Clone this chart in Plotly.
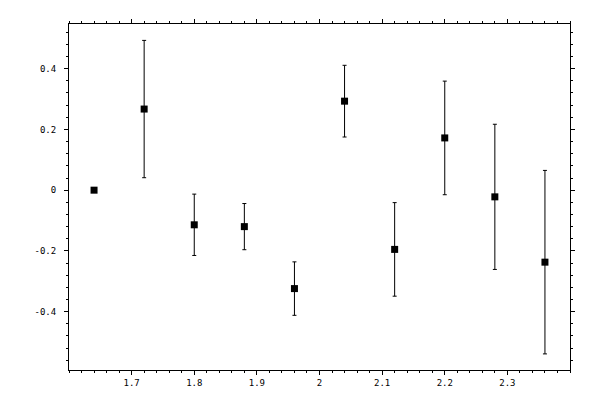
import plotly.graph_objects as go

x = [1.64, 1.72, 1.80, 1.88, 1.96, 2.04, 2.12, 2.20, 2.28, 2.36]
y = [0.0, 0.267, -0.114, -0.120, -0.324, 0.293, -0.195, 0.172, -0.022, -0.237]
err = [0.0, 0.226, 0.101, 0.076, 0.088, 0.118, 0.154, 0.187, 0.239, 0.302]

x_ticks = [1.7, 1.8, 1.9, 2.0, 2.1, 2.2, 2.3]
x_labels = ["1.7", "1.8", "1.9", "2", "2.1", "2.2", "2.3"]
y_ticks = [-0.4, -0.2, 0.0, 0.2, 0.4]
y_labels = ["-0.4", "-0.2", "0", "0.2", "0.4"]

fig = go.Figure(
    go.Scatter(
        x=x,
        y=y,
        mode="markers",
        marker=dict(symbol="square", size=7, color="black"),
        error_y=dict(type="data", array=err, color="black", thickness=1, width=2),
    )
)

axis_style = dict(
    showline=True,
    linecolor="black",
    linewidth=1,
    mirror="ticks",
    showgrid=False,
    zeroline=False,
    ticks="outside",
    ticklen=4,
    tickcolor="black",
    tickfont=dict(family="DejaVu Sans Mono", size=9, color="black"),
)

fig.update_xaxes(
    range=[1.6, 2.4],
    tickvals=x_ticks,
    ticktext=x_labels,
    minor=dict(dtick=0.02, tick0=1.6, ticks="outside", ticklen=2, tickcolor="black"),
    **axis_style,
)
fig.update_yaxes(
    range=[-0.592, 0.547],
    tickvals=y_ticks,
    ticktext=y_labels,
    ticklabelstandoff=6,
    minor=dict(dtick=0.04, tick0=0, ticks="outside", ticklen=2, tickcolor="black"),
    **axis_style,
)
# page body adds an 8px offset, so the margins are shifted to compensate
fig.update_layout(
    width=600,
    height=400,
    margin=dict(l=61, r=38, t=11, b=38),
    plot_bgcolor="white",
    paper_bgcolor="white",
    showlegend=False,
)
fig.write_html("out.html")
